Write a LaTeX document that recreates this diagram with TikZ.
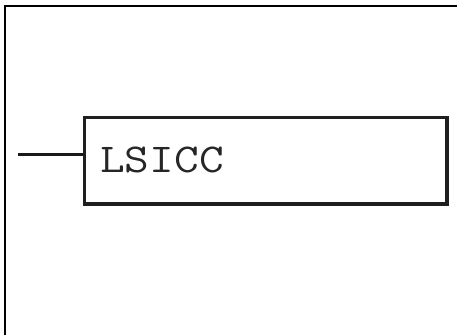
\documentclass[tikz,border=0pt]{standalone}
\begin{document}
\begin{tikzpicture}[x=1pt,y=-1pt,
  frameline/.style={line width=2.6pt,black},
  boxline/.style={line width=3.4pt,draw=black!88},
  wireline/.style={line width=3pt,black!90},
  lbl/.style={font=\ttfamily\fontsize{41}{43}\selectfont,inner sep=0pt,anchor=base west,text=black!85,xscale=1.17}]
\useasboundingbox (0,0) rectangle (457,335);
\draw[frameline] (5,335) -- (5,6) -- (457,6);
\node[boxline,minimum width=362.5pt,minimum height=86.5pt,inner sep=0pt] (box) at (265.75,160.75) {};
\node[lbl] (t) at (100,172) {LSICC};
\coordinate (w) at (18,154);
\draw[wireline] (w) -- (box.west |- w);
\end{tikzpicture}
\end{document}
